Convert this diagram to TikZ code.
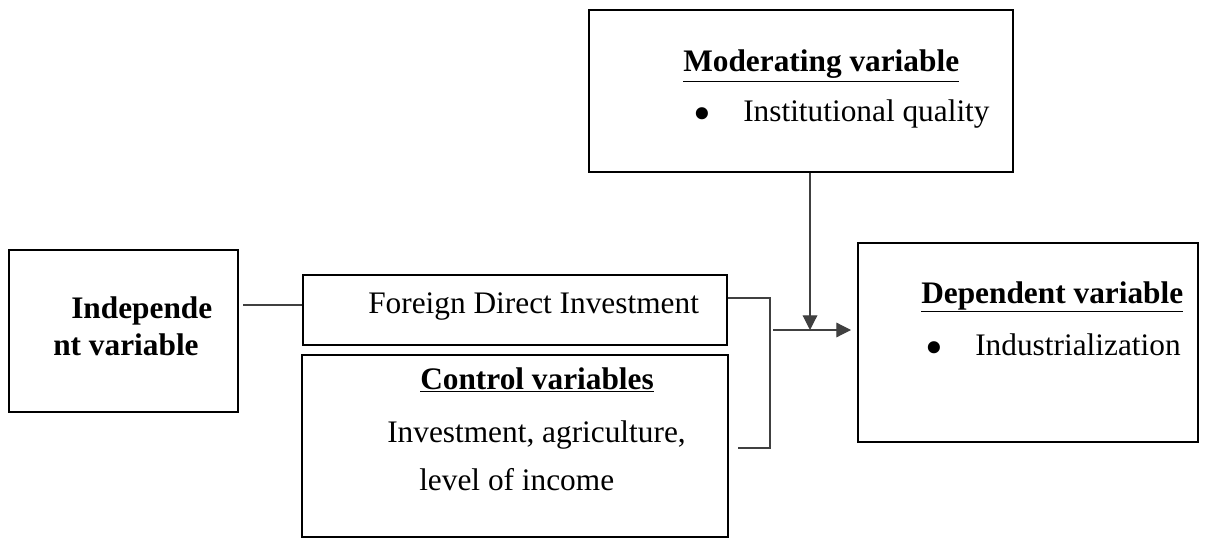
\documentclass[tikz,border=0pt]{standalone}
\usepackage{fontspec}
\setmainfont{Liberation Serif}
\usetikzlibrary{arrows.meta}
\begin{document}
\begin{tikzpicture}[x=0.75pt,y=-0.75pt,
  box/.style={draw=black, line width=1.5pt, rectangle, inner sep=0pt},
  txt/.style={inner sep=0pt, anchor=base west, font=\fontsize{23.5}{28}\selectfont},
  head/.style={inner sep=0pt, anchor=base west, font=\fontsize{23.5}{28}\selectfont\bfseries},
  bul/.style={inner sep=0pt, anchor=base, font=\fontsize{38}{40}\selectfont},
  conn/.style={draw=black!75, line width=0.9pt},
  arr/.style={conn, -{Triangle[length=11pt,width=11pt]}}]
\useasboundingbox (0,0) rectangle (1209,538);

% boxes
\node[box, minimum width=424*0.75pt, minimum height=162*0.75pt] (mod) at (801,91) {};
\node[box, minimum width=229*0.75pt, minimum height=162*0.75pt] (ind) at (123.5,331) {};
\node[box, minimum width=424*0.75pt, minimum height=70*0.75pt] (fdi) at (515,310) {};
\node[box, minimum width=426*0.75pt, minimum height=182*0.75pt] (ctrl) at (515,446) {};
\node[box, minimum width=340*0.75pt, minimum height=199*0.75pt] (dep) at (1028,342.5) {};

% texts
\node[head] (modT) at (683,72) {\underline{Moderating variable}};
\node[bul] (modB) at (702,131) {•};
\node[txt] (modI) at (743,122) {Institutional quality};
\node[head] (indT1) at (71,318) {Independe};
\node[head] (indT2) at (53,355) {nt variable};
\node[txt] (fdiT) at (368,313) {Foreign Direct Investment};
\node[head] (ctrlT) at (420,389) {\underline{Control variables}};
\node[txt] (ctrlA) at (387,442) {Investment, agriculture,};
\node[txt] (ctrlB) at (419,490) {level of income};
\node[head] (depT) at (921,303) {\underline{Dependent variable}};
\node[bul] (depB) at (934,364) {•};
\node[txt] (depI) at (975,355) {Industrialization};

% helper coordinates
\coordinate (yA) at (0,305);
\coordinate (yB) at (0,298);
\coordinate (yC) at (0,448);
\coordinate (xB) at (770,0);
\coordinate (j) at (810,330);
\coordinate (hs) at (773,330);

% connectors
\draw[conn, shorten <=3pt] (ind.east |- yA) -- (fdi.west |- yA);
\draw[conn] (fdi.east |- yB) -| (xB |- yC) -- ([xshift=6.75pt]ctrl.east |- yC);
\draw[arr, shorten >=4.5pt] (hs) -- (dep.west |- hs);
\draw[arr] (mod.south -| j) -- (j);
\end{tikzpicture}
\end{document}
